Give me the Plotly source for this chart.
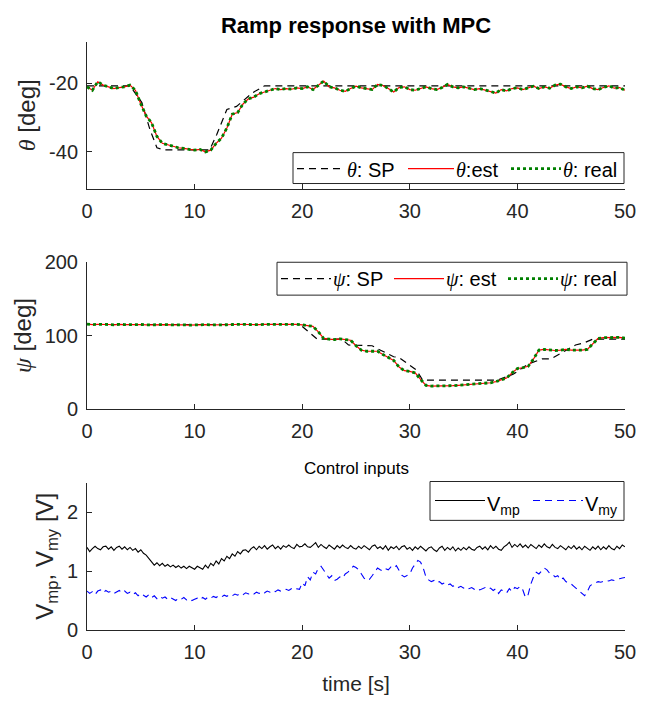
import numpy as np
import plotly.graph_objects as go

# ---------------- data ----------------
t_half = np.arange(0, 50.0001, 0.5)      # 101 samples
t_q = np.arange(0, 50.0001, 0.25)        # 201 samples

theta_meas = [
    -21, -22, -19.5, -20.5, -21, -21.5, -21.2, -21, -20.5, -22,
    -26, -29.5, -31.5, -35.5, -37.5, -38, -38.5, -38.8, -39, -39.3,
    -39.5, -39.3, -40, -39.5, -37.5, -36, -33, -29, -28.5, -26,
    -24.5, -24, -23, -22.5, -22, -21.5, -21.8, -21.5, -21.7, -21.3,
    -21.5, -21, -21.8, -20.5, -19.3, -21, -21.3, -22, -22.3, -21.5,
    -20.8, -21.3, -21.5, -21.8, -20.3, -20.6, -21.5, -22.5, -21.2, -21.0,
    -21.8, -22, -21.5, -21.0, -21.5, -21.8, -21.2, -20.3, -21, -21.3,
    -21, -21.5, -21.8, -21.5, -22, -22.5, -22.8, -21.8, -22.2, -21.5,
    -21.3, -21.8, -21.2, -20.8, -21.5, -21.0, -21.4, -20.5, -20.2, -21,
    -21.5, -21, -21.3, -20.8, -21.5, -21.8, -21.2, -20.7, -21.4, -21.2,
    -22,
]
theta_sp_t = [0, 4.0, 5.1, 5.85, 6.5, 7.1, 11.4, 12.05, 13.0, 13.9, 15.4, 16.5, 50]
theta_sp_v = [-20.7, -20.7, -25.6, -33.5, -38.8, -39.4, -39.4, -35, -27.6, -26.7, -22.7, -20.7, -20.7]

psi_meas = [
    115.5, 114.8, 115.2, 115.6, 115, 114.6, 115.3, 114.9, 115.1, 114.7,
    115, 114.5, 114.8, 115.2, 114.6, 114.9, 114.4, 114.8, 114.5, 114.2,
    114.6, 114.3, 114.8, 114.5, 114.9, 114.4, 114.7, 115, 114.6, 115.2,
    115, 115.4, 114.8, 115.1, 115.3, 114.9, 115.2, 115.5, 115.1, 115.3,
    114.5, 114, 112.5, 105, 96, 95, 94.5, 95.5, 94.8, 93.5,
    86, 80, 78.5, 78, 78.5, 74, 70, 66, 57, 52,
    51, 49, 40, 32, 31, 31, 30.8, 31.2, 31.5, 32,
    32.5, 33, 33.5, 34, 35, 35.5, 37, 39, 42, 49,
    55, 56, 58, 68, 80, 81, 80, 79.5, 80, 81,
    80, 79.5, 80, 81, 89, 96, 97, 97.5, 97, 97.5,
    96.5,
]
psi_sp_t = [0, 19.8, 21.4, 23.7, 24.3, 26.5, 27.0, 28.5, 29.0, 30.6, 31.2, 38.1, 39.6, 41.0, 42.3, 43.1, 45.4, 46.2, 47.0, 50]
psi_sp_v = [115, 115, 95, 95, 87, 86, 82, 71, 70, 53, 39, 39, 47, 61, 68, 68, 87, 90, 95, 95]

v_mp = [
    1.40, 1.33, 1.38, 1.42, 1.38, 1.36, 1.41, 1.42, 1.37, 1.41, 1.35, 1.40, 1.42, 1.37, 1.41, 1.36, 1.40, 1.35, 1.38,
    1.32, 1.36, 1.30, 1.27, 1.21, 1.17, 1.10, 1.14, 1.09, 1.13, 1.08, 1.11, 1.07, 1.10, 1.06, 1.09, 1.05, 1.08, 1.04, 1.08, 1.06,
    1.03, 1.08, 1.06, 1.03, 1.10, 1.05, 1.13, 1.09, 1.17, 1.12, 1.21, 1.17, 1.25, 1.21, 1.29, 1.25, 1.33, 1.29, 1.35, 1.36, 1.32,
    1.38, 1.41, 1.36, 1.42, 1.38, 1.43, 1.37, 1.41, 1.44, 1.38, 1.42, 1.37, 1.43, 1.40, 1.44, 1.40, 1.38, 1.45, 1.41, 1.42,
    1.46, 1.41, 1.40, 1.44, 1.48, 1.40, 1.45, 1.41, 1.38, 1.44, 1.40, 1.37, 1.43, 1.39, 1.44, 1.40, 1.38, 1.43, 1.39, 1.37,
    1.42, 1.38, 1.43, 1.39, 1.36, 1.42, 1.44, 1.38, 1.41, 1.37, 1.43, 1.35, 1.41, 1.38, 1.42, 1.36, 1.41, 1.43, 1.37, 1.40,
    1.35, 1.41, 1.37, 1.42, 1.38, 1.34, 1.39, 1.41, 1.36, 1.33, 1.39, 1.42, 1.35, 1.40, 1.36, 1.41, 1.34, 1.39, 1.35, 1.40,
    1.36, 1.41, 1.37, 1.35, 1.40, 1.42, 1.37, 1.41, 1.36, 1.43, 1.38, 1.42, 1.37, 1.35, 1.41, 1.44, 1.49, 1.40, 1.45, 1.41,
    1.46, 1.40, 1.44, 1.39, 1.45, 1.41, 1.38, 1.44, 1.40, 1.46, 1.41, 1.39, 1.45, 1.40, 1.38, 1.43, 1.39, 1.36, 1.42, 1.38,
    1.43, 1.37, 1.41, 1.36, 1.42, 1.38, 1.35, 1.41, 1.37, 1.42, 1.36, 1.41, 1.37, 1.43, 1.38, 1.36, 1.42, 1.38, 1.44, 1.41,
]
v_my = [
    0.66, 0.62, 0.65, 0.60, 0.66, 0.68, 0.63, 0.67, 0.64, 0.66, 0.62, 0.65, 0.67, 0.63, 0.66, 0.62, 0.64, 0.60, 0.63, 0.58, 0.62,
    0.59, 0.56, 0.60, 0.55, 0.58, 0.53, 0.57, 0.54, 0.56, 0.52, 0.55, 0.53, 0.50, 0.54, 0.52, 0.55, 0.51, 0.53, 0.50, 0.52,
    0.54, 0.51, 0.55, 0.52, 0.56, 0.54, 0.57, 0.55, 0.58, 0.56, 0.59, 0.57, 0.60, 0.58, 0.61, 0.59, 0.62, 0.60, 0.63, 0.61,
    0.63, 0.61, 0.64, 0.62, 0.65, 0.63, 0.66, 0.64, 0.67, 0.65, 0.68, 0.66, 0.67, 0.69, 0.67, 0.70, 0.68, 0.70, 0.69, 0.80,
    0.75, 0.90, 0.85, 0.98, 0.95, 1.05, 1.08, 1.02, 0.95, 0.88, 0.92, 0.84, 0.86, 0.90, 0.88, 0.95, 0.98, 1.04, 1.08, 1.06,
    1.02, 0.95, 0.88, 0.84, 0.86, 0.92, 0.98, 1.05, 1.02, 1.00, 1.04, 1.02, 1.07, 1.05, 1.09, 1.00, 0.93, 0.90, 0.92, 0.95,
    1.05, 1.12, 1.18, 1.15, 1.05, 0.90, 0.85, 0.82, 0.84, 0.80, 0.82, 0.78, 0.80, 0.76, 0.78, 0.74, 0.76, 0.72, 0.74, 0.71,
    0.73, 0.70, 0.72, 0.69, 0.71, 0.68, 0.70, 0.72, 0.69, 0.71, 0.67, 0.70, 0.62, 0.68, 0.66, 0.63, 0.70, 0.65, 0.72, 0.70,
    0.74, 0.68, 0.55, 0.60, 0.78, 0.90, 0.98, 0.95, 1.00, 1.05, 1.02, 0.96, 0.95, 0.90, 0.92, 0.85, 0.88, 0.82, 0.80, 0.78,
    0.74, 0.70, 0.66, 0.62, 0.58, 0.65, 0.75, 0.78, 0.80, 0.82, 0.81, 0.83, 0.84, 0.83, 0.85, 0.84, 0.86, 0.87, 0.88, 0.89,
]

assert len(theta_meas) == len(t_half), len(theta_meas)
assert len(psi_meas) == len(t_half), len(psi_meas)
assert len(v_mp) == len(t_q), len(v_mp)
assert len(v_my) == len(t_q), len(v_my)

# ---------------- figure ----------------
W, H = 654, 704
ML, MR, MT, MB = 87, 29, 42, 72
PH = H - MT - MB
PW = W - ML - MR


def py(pix):
    """pixel row -> paper fraction"""
    return (H - MB - pix) / PH


def px(pix):
    """pixel column -> paper fraction"""
    return (pix - ML) / PW


FONT = "Liberation Sans, Arial, sans-serif"
AX = "#262626"
SERIF = "font-family:'Liberation Serif','DejaVu Serif',serif"


def sym(s):
    return f"<span style=\"{SERIF}\"><i>{s}</i></span>"


SP_STYLE = dict(color="black", width=1.2, dash="7px,5px")
EST_STYLE = dict(color="#ff0000", width=1.2)
REAL_STYLE = dict(color="#008000", width=2.8, dash="dot")
VMP_STYLE = dict(color="black", width=1.1)
VMY_STYLE = dict(color="#0000ff", width=1.1, dash="7px,5px")

fig = go.Figure()

# theta subplot
fig.add_trace(go.Scatter(x=theta_sp_t, y=theta_sp_v, mode="lines", name="θ: SP",
                         line=SP_STYLE, xaxis="x", yaxis="y"))
fig.add_trace(go.Scatter(x=t_half, y=theta_meas, mode="lines", name="θ:est",
                         line=EST_STYLE, xaxis="x", yaxis="y"))
fig.add_trace(go.Scatter(x=t_half, y=theta_meas, mode="lines", name="θ: real",
                         line=REAL_STYLE, xaxis="x", yaxis="y"))

# psi subplot
fig.add_trace(go.Scatter(x=psi_sp_t, y=psi_sp_v, mode="lines", name="ψ: SP",
                         line=SP_STYLE, xaxis="x2", yaxis="y2"))
fig.add_trace(go.Scatter(x=t_half, y=psi_meas, mode="lines", name="ψ: est",
                         line=EST_STYLE, xaxis="x2", yaxis="y2"))
fig.add_trace(go.Scatter(x=t_half, y=psi_meas, mode="lines", name="ψ: real",
                         line=REAL_STYLE, xaxis="x2", yaxis="y2"))

# control inputs
fig.add_trace(go.Scatter(x=t_q, y=v_mp, mode="lines", name="V_mp",
                         line=VMP_STYLE, xaxis="x3", yaxis="y3"))
fig.add_trace(go.Scatter(x=t_q, y=v_my, mode="lines", name="V_my",
                         line=VMY_STYLE, xaxis="x3", yaxis="y3"))

x_ticks = [0, 10, 20, 30, 40, 50]


def xaxis(dom_anchor, title=None):
    d = dict(domain=[0, 1], range=[0, 50], anchor=dom_anchor, tickvals=x_ticks,
             ticks="inside", ticklen=5, tickcolor=AX, showline=True, linecolor=AX, linewidth=1,
             showgrid=False, zeroline=False, tickfont=dict(family=FONT, size=20, color=AX),
             ticklabelstandoff=4)
    if title:
        d["title"] = dict(text=title, font=dict(family=FONT, size=21, color=AX), standoff=14)
    return d


def yaxis(dom, rng, tv, tt, title, anchor):
    return dict(domain=dom, range=rng, anchor=anchor, tickvals=tv, ticktext=tt,
                ticks="inside", ticklen=5, tickcolor=AX, showline=True, linecolor=AX, linewidth=1,
                showgrid=False, zeroline=False, tickfont=dict(family=FONT, size=20, color=AX),
                ticklabelstandoff=4,
                title=dict(text=title, font=dict(family=FONT, size=24, color=AX), standoff=6))


# ---- legends drawn as boxes with sample lines and labels (pixel layout) ----
legend_specs = [
    # box (x0, y0, x1, y1), sample-line y, entries: (line x0, line x1, style, label)
    ((293, 153, 624, 184), 169,
     [(297, 345, SP_STYLE, f"{sym('θ')}: SP"),
      (408, 454, EST_STYLE, f"{sym('θ')}:est"),
      (511, 561, REAL_STYLE, f"{sym('θ')}: real")]),
    ((277, 263, 627, 296), 279.5,
     [(281, 331, SP_STYLE, f"{sym('ψ')}: SP"),
      (394, 444, EST_STYLE, f"{sym('ψ')}: est"),
      (508, 558, REAL_STYLE, f"{sym('ψ')}: real")]),
    ((430, 483, 624, 522), 502,
     [(435, 485, VMP_STYLE, "V<sub>mp</sub>"),
      (533, 583, VMY_STYLE, "V<sub>my</sub>")]),
]

shapes = []
annotations = []
for (bx0, by0, bx1, by1), ly, entries in legend_specs:
    shapes.append(dict(type="rect", xref="paper", yref="paper",
                       x0=px(bx0), x1=px(bx1), y0=py(by1), y1=py(by0),
                       line=dict(color=AX, width=1), fillcolor="white", layer="above"))
    for lx0, lx1, style, label in entries:
        shapes.append(dict(type="line", xref="paper", yref="paper",
                           x0=px(lx0), x1=px(lx1), y0=py(ly), y1=py(ly),
                           line=style, layer="above"))
        annotations.append(dict(text=label, x=px(lx1 + 1), y=py(ly + 1 if "sub" not in label else ly + 5),
                                xref="paper", yref="paper", showarrow=False,
                                xanchor="left", yanchor="middle", borderpad=0,
                                font=dict(family=FONT, size=20, color="black")))

annotations.append(dict(text="Control inputs", x=0.5, xref="paper", y=py(470), yref="paper",
                        showarrow=False, xanchor="center", yanchor="middle",
                        font=dict(family=FONT, size=17, color="black")))

fig.update_layout(
    width=W, height=H, margin=dict(l=ML, r=MR, t=MT, b=MB),
    paper_bgcolor="white", plot_bgcolor="white", showlegend=False,
    title=dict(text="<b>Ramp response with MPC</b>", x=0.5, xref="paper", y=1 - 25 / H, yref="container",
               yanchor="middle", xanchor="center", font=dict(family=FONT, size=22, color="black")),
    xaxis=xaxis("y"),
    yaxis=yaxis([py(189), 1], [-50.7, -7.9], [-40, -20], ["-40", "-20"], f"{sym('θ')} [deg]", "x"),
    xaxis2=xaxis("y2"),
    yaxis2=yaxis([py(410), py(263)], [0, 200], [0, 100, 200], ["0", "100", "200"], f"{sym('ψ')} [deg]", "x2"),
    xaxis3=xaxis("y3", "time [s]"),
    yaxis3=yaxis([0, py(484)], [0, 2.5], [0, 1, 2], ["0", "1", "2"], "V<sub>mp</sub>, V<sub>my</sub> [V]", "x3"),
    shapes=shapes,
    annotations=annotations,
)

fig.write_html("out.html")
